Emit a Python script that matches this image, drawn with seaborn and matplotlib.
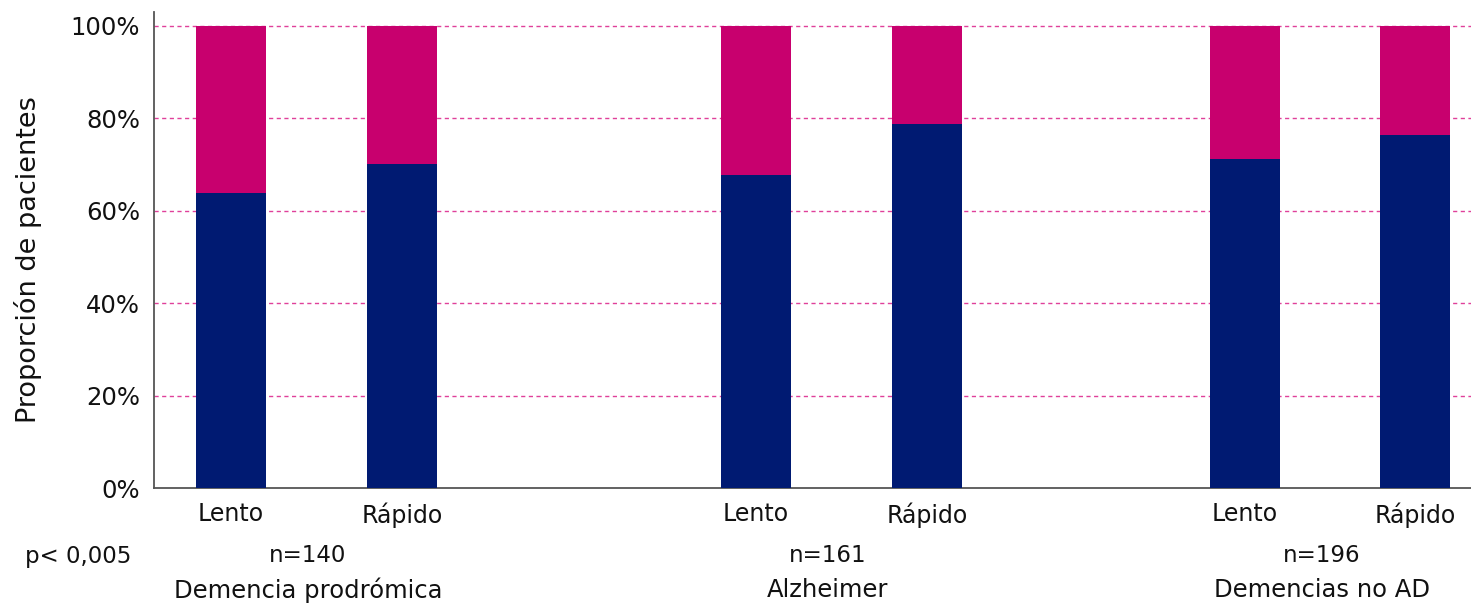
import matplotlib
matplotlib.use("Agg")
import matplotlib.pyplot as plt
import matplotlib.transforms as mtransforms
import seaborn as sns
import pandas as pd

# ---- data ----
groups = ["Demencia prodrómica", "Alzheimer", "Demencias no AD"]
group_n = ["n=140", "n=161", "n=196"]
speeds = ["Lento", "Rápido", "Lento", "Rápido", "Lento", "Rápido"]
navy_pct = [63.9, 70.2, 67.7, 78.8, 71.2, 76.5]
total_pct = [100, 100, 100, 100, 100, 100]
p_text = "p< 0,005"
ylabel = "Proporción de pacientes"
ytick_vals = [0, 20, 40, 60, 80, 100]
ytick_labels = ["0%", "20%", "40%", "60%", "80%", "100%"]

# ---- layout ----
bar_pos = [231, 402, 756, 927, 1245, 1415]
group_label_x = [308, 828, 1322]

NAVY = "#001A72"
MAGENTA = "#C8006E"
GRID = "#E0409A"
TXT = "#111111"

sns.set_style("white")
plt.rcParams["font.family"] = ["DejaVu Sans"]

W, H = 1471, 606
fig = plt.figure(figsize=(W / 100, H / 100), dpi=100)
ax = fig.add_axes([154 / W, (H - 488.3) / H, (W - 154) / W, (488.3 - 12) / H])

df = pd.DataFrame({"x": bar_pos, "total": total_pct, "navy": navy_pct})

width = 70 / 170
sns.barplot(data=df, x="x", y="total", native_scale=True, color=MAGENTA,
            saturation=1, width=width, ax=ax, zorder=2, linewidth=0)
sns.barplot(data=df, x="x", y="navy", native_scale=True, color=NAVY,
            saturation=1, width=width, ax=ax, zorder=3, linewidth=0)

ax.set_xlim(154, 1471)
ax.set_ylim(0, 103)
ax.set_yticks(ytick_vals)
ax.set_yticklabels(ytick_labels, fontsize=17.5, color=TXT)
ax.set_xticks(bar_pos)
ax.set_xticklabels(speeds, fontsize=17, color=TXT)
ax.tick_params(axis="both", length=0)
ax.tick_params(axis="x", pad=10)
ax.tick_params(axis="y", pad=10)
ax.set_xlabel("")
ax.set_ylabel("")
fig.text(28 / W, 1 - 260 / H, ylabel, rotation=90, ha="center", va="center",
         fontsize=19.5, color=TXT)

for v in ytick_vals[1:]:
    ax.axhline(v, color=GRID, linestyle=(0, (3, 2.5)), linewidth=1.0, zorder=1)

for s in ["top", "right"]:
    ax.spines[s].set_visible(False)
for s in ["left", "bottom"]:
    ax.spines[s].set_color("#555555")
    ax.spines[s].set_linewidth(1.3)

trans = mtransforms.blended_transform_factory(ax.transData, fig.transFigure)
for gx, gn, gname in zip(group_label_x, group_n, groups):
    ax.text(gx, 1 - 556 / H, gn, transform=trans, ha="center", va="center",
            fontsize=16.5, color=TXT)
    ax.text(gx, 1 - 590 / H, gname, transform=trans, ha="center", va="center",
            fontsize=17.5, color=TXT)
fig.text(25 / W, 1 - 556 / H, p_text, ha="left", va="center", fontsize=16.5,
         color=TXT)

fig.savefig("out.png", dpi=100)
